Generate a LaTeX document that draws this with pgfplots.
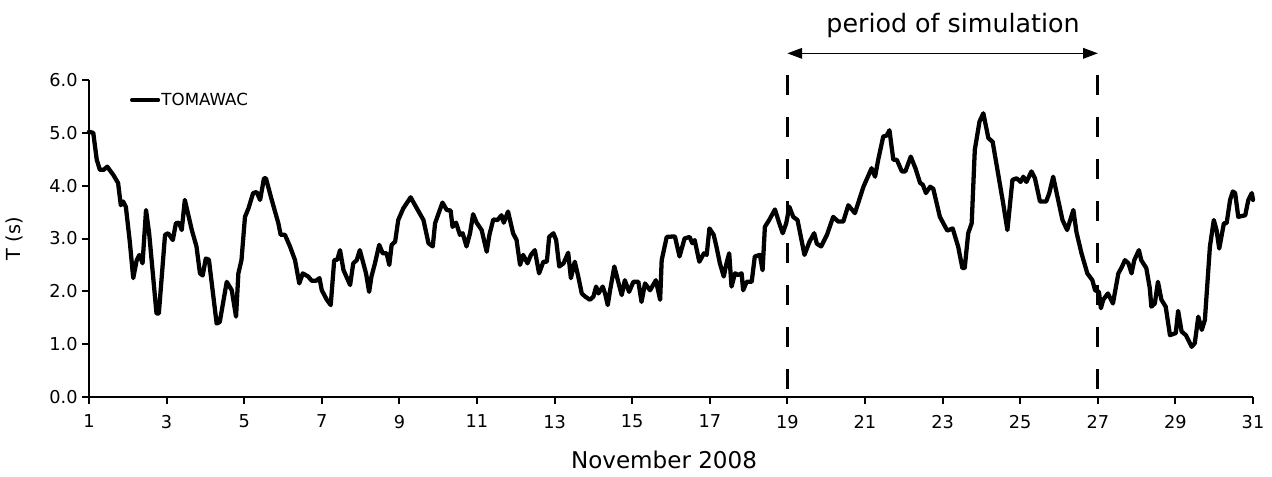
\documentclass[border=0pt]{standalone}
\usepackage{fontspec}
\setmainfont{DejaVu Sans}
\usepackage{pgfplots}
\pgfplotsset{compat=1.18}
\usetikzlibrary{arrows.meta}
\begin{document}
\begin{tikzpicture}
\path[use as bounding box] (-66.75pt,-59.25pt) rectangle (887.25pt,297.75pt);
\begin{axis}[
  at={(0,0)}, anchor=south west,
  scale only axis,
  width=873pt, height=237.75pt,
  xmin=1, xmax=31, ymin=0, ymax=6,
  axis lines=left,
  axis line style={-, line width=1.7pt},
  xtick={1,3,...,31},
  ytick={0,1,...,6},
  tick align=outside,
  major tick length=5pt,
  tick style={line width=1.5pt, black},
  clip=false,
  /pgf/number format/assume math mode=true,
  yticklabel={\pgfmathprintnumber[fixed,fixed zerofill,precision=1]{\tick}},
  ticklabel style={font=\fontsize{13.3pt}{15pt}\selectfont},
  xticklabel style={yshift=-5pt},
  xlabel={November 2008},
  ylabel={T (s)},
  x label style={at={(axis description cs:0.494,-0.199)}, anchor=center, font=\fontsize{17.3pt}{20pt}\selectfont},
  y label style={at={(axis description cs:-0.064,0.50)}, anchor=center, font=\fontsize{14.5pt}{16pt}\selectfont},
  legend style={at={(axis description cs:0.035,0.937)}, anchor=west, draw=none, fill=none, inner sep=0pt,
    font=\fontsize{12.5pt}{14pt}\selectfont, nodes={inner sep=1pt}},
  legend cell align=left,
  legend image code/.code={\draw[#1, line width=2.6pt] (0pt,0pt) -- (20pt,0pt);},
]
\addplot[black, line width=3.2pt, line join=round, line cap=round] coordinates {
(1.00,5.02) (1.11,5.00) (1.20,4.49) (1.28,4.30) (1.38,4.30) (1.47,4.36) (1.63,4.20) (1.75,4.05)
(1.82,3.63) (1.88,3.70) (1.95,3.60) (2.05,2.95) (2.14,2.25) (2.23,2.59) (2.30,2.69) (2.38,2.53)
(2.47,3.54) (2.55,3.10) (2.74,1.58) (2.80,1.58) (2.96,3.07) (3.04,3.10) (3.16,2.97) (3.24,3.29)
(3.32,3.30) (3.39,3.16) (3.47,3.73) (3.65,3.16) (3.77,2.85) (3.86,2.34) (3.93,2.30) (4.01,2.62)
(4.09,2.60) (4.29,1.39) (4.37,1.42) (4.55,2.18) (4.68,2.02) (4.79,1.52) (4.85,2.34) (4.93,2.59)
(5.02,3.41) (5.11,3.57) (5.23,3.86) (5.32,3.88) (5.41,3.73) (5.51,4.14) (5.56,4.14) (5.71,3.73)
(5.88,3.29) (5.94,3.07) (6.05,3.07) (6.18,2.85) (6.31,2.59) (6.42,2.15) (6.51,2.34) (6.65,2.28)
(6.74,2.20) (6.85,2.20) (6.94,2.25) (7.00,2.02) (7.13,1.84) (7.23,1.74) (7.32,2.59) (7.40,2.60)
(7.47,2.78) (7.56,2.40) (7.73,2.12) (7.81,2.53) (7.90,2.59) (7.98,2.78) (8.14,2.34) (8.22,1.99)
(8.28,2.28) (8.37,2.53) (8.48,2.88) (8.57,2.72) (8.67,2.72) (8.74,2.50) (8.80,2.88) (8.89,2.94)
(8.97,3.35) (9.10,3.57) (9.29,3.78) (9.45,3.57) (9.62,3.35) (9.75,2.91) (9.86,2.85) (9.92,3.29)
(10.11,3.68) (10.22,3.54) (10.32,3.53) (10.37,3.22) (10.46,3.30) (10.56,3.07) (10.63,3.10) (10.73,2.85)
(10.82,3.10) (10.90,3.46) (10.99,3.30) (11.12,3.16) (11.25,2.75) (11.32,3.07) (11.42,3.36) (11.53,3.35)
(11.63,3.44) (11.69,3.30) (11.80,3.51) (11.93,3.10) (12.02,2.97) (12.11,2.50) (12.19,2.69) (12.30,2.53)
(12.39,2.69) (12.49,2.78) (12.60,2.34) (12.71,2.56) (12.80,2.56) (12.86,3.03) (12.97,3.10) (13.04,2.97)
(13.12,2.47) (13.23,2.53) (13.35,2.73) (13.42,2.25) (13.52,2.56) (13.61,2.28) (13.70,1.96) (13.79,1.90)
(13.91,1.84) (14.00,1.90) (14.07,2.09) (14.13,1.96) (14.24,2.09) (14.30,1.96) (14.37,1.74) (14.43,2.02)
(14.54,2.47) (14.65,2.15) (14.73,1.93) (14.81,2.21) (14.92,1.99) (15.03,2.18) (15.16,2.18) (15.24,1.80)
(15.33,2.15) (15.46,2.02) (15.61,2.21) (15.72,1.84) (15.76,2.59) (15.89,3.03) (16.10,3.04) (16.22,2.66)
(16.35,3.00) (16.48,3.03) (16.55,2.91) (16.61,2.97) (16.73,2.56) (16.85,2.72) (16.92,2.69) (16.99,3.19)
(17.10,3.07) (17.17,2.85) (17.26,2.53) (17.36,2.28) (17.43,2.53) (17.50,2.72) (17.56,2.09) (17.65,2.34)
(17.73,2.31) (17.82,2.34) (17.86,2.02) (17.95,2.18) (18.08,2.18) (18.16,2.66) (18.29,2.69) (18.36,2.40)
(18.42,3.22) (18.53,3.35) (18.68,3.55) (18.79,3.29) (18.88,3.10) (18.97,3.29) (19.05,3.60) (19.15,3.41)
(19.26,3.35) (19.44,2.69) (19.57,2.94) (19.69,3.10) (19.76,2.90) (19.87,2.85) (20.02,3.07) (20.18,3.41)
(20.31,3.32) (20.44,3.32) (20.57,3.63) (20.74,3.48) (20.96,3.98) (21.17,4.33) (21.26,4.17) (21.34,4.49)
(21.47,4.93) (21.56,4.95) (21.63,5.05) (21.73,4.49) (21.82,4.49) (21.95,4.27) (22.04,4.27) (22.18,4.55)
(22.30,4.33) (22.42,4.05) (22.49,4.02) (22.57,3.86) (22.68,3.98) (22.76,3.94) (22.93,3.41) (23.12,3.15)
(23.26,3.19) (23.40,2.85) (23.51,2.44) (23.57,2.44) (23.66,3.10) (23.75,3.29) (23.83,4.68) (23.95,5.21)
(24.05,5.37) (24.18,4.90) (24.29,4.83) (24.43,4.23) (24.56,3.67) (24.67,3.16) (24.80,4.11) (24.91,4.14)
(25.01,4.07) (25.08,4.17) (25.16,4.07) (25.29,4.27) (25.38,4.14) (25.51,3.70) (25.67,3.70) (25.75,3.86)
(25.85,4.17) (25.94,3.86) (26.09,3.35) (26.21,3.16) (26.37,3.54) (26.45,3.12) (26.58,2.72) (26.73,2.34)
(26.86,2.21) (26.93,2.02) (27.03,1.99) (27.08,1.68) (27.14,1.84) (27.26,1.96) (27.39,1.77) (27.53,2.34)
(27.62,2.46) (27.70,2.59) (27.79,2.53) (27.87,2.34) (27.94,2.59) (28.06,2.78) (28.12,2.59) (28.25,2.44)
(28.34,2.06) (28.38,1.71) (28.47,1.77) (28.55,2.18) (28.64,1.84) (28.75,1.71) (28.86,1.17) (29.01,1.21)
(29.07,1.63) (29.16,1.24) (29.27,1.17) (29.42,0.95) (29.50,1.02) (29.59,1.52) (29.68,1.27) (29.76,1.46)
(29.89,2.85) (29.99,3.35) (30.06,3.16) (30.13,2.81) (30.25,3.29) (30.32,3.29) (30.41,3.73) (30.48,3.89)
(30.54,3.86) (30.62,3.41) (30.80,3.44) (30.88,3.73) (30.97,3.86) (31.00,3.73)
};
\addlegendentry{TOMAWAC}
\draw[black, line width=2.2pt, dash pattern=on 15pt off 16.5pt] (axis cs:19,6.095) -- (axis cs:19,0);
\draw[black, line width=2.2pt, dash pattern=on 15pt off 16.5pt] (axis cs:27,6.095) -- (axis cs:27,0);
\draw[black, line width=0.8pt, {Triangle[length=11pt,width=8pt]}-{Triangle[length=11pt,width=8pt]}] (axis cs:19,6.505) -- (axis cs:27,6.505);
\node[anchor=base, font=\fontsize{19pt}{22pt}\selectfont, inner sep=0pt] at (axis cs:23.27,6.89) {period of simulation};
\end{axis}
\end{tikzpicture}
\end{document}
